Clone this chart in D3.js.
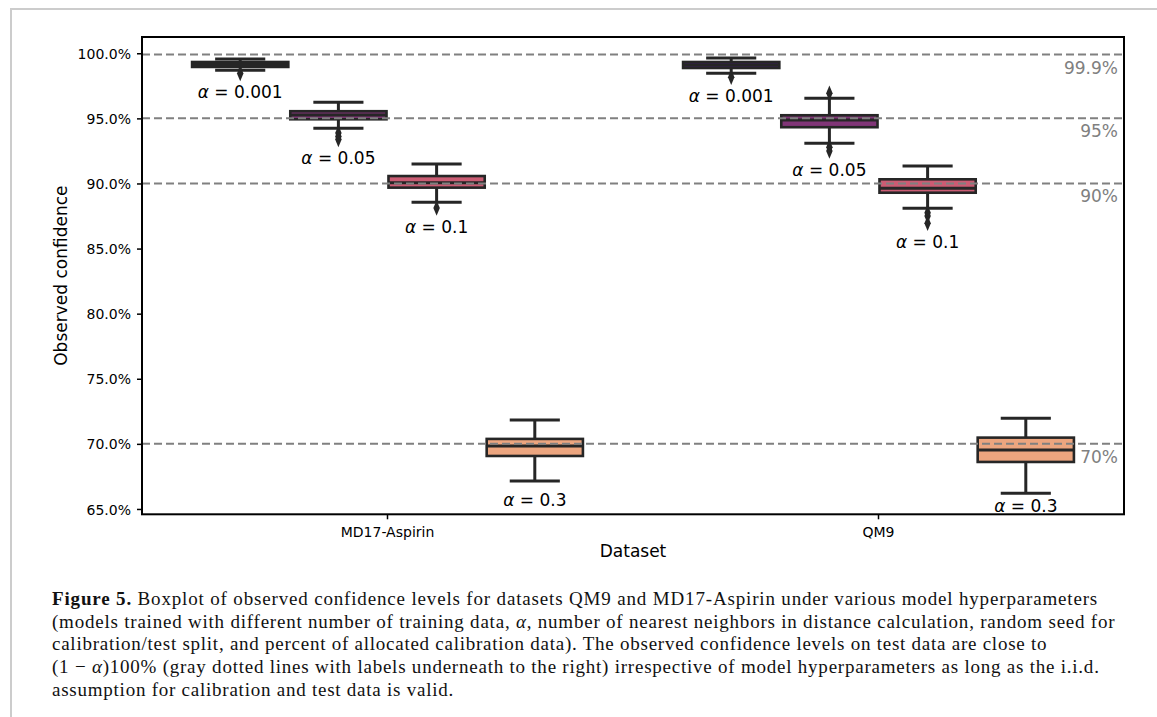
<!DOCTYPE html>
<html>
<head>
<meta charset="utf-8">
<script src="https://cdn.jsdelivr.net/npm/d3@7"></script>
<style>
  body { margin: 0; background: #fff; }
  svg { display: block; }
  .tick text { font-family: 'DejaVu Sans', sans-serif; font-size: 14px; fill: #000; }
</style>
</head>
<body>
<script>
const datasets = ['MD17-Aspirin', 'QM9'];
const alphas = ['0.001', '0.05', '0.1', '0.3'];
const palette = ['#3c1b64', '#803577', '#cb5c73', '#eca57f'];

// box stats per alpha (percent)
const md17Lower  = [98.69, 94.24, 88.56, 67.15];
const md17Q1     = [98.95, 94.93, 89.68, 69.07];
const md17Median = [99.14, 95.26, 90.06, 69.84];
const md17Q3     = [99.33, 95.55, 90.57, 70.38];
const md17Upper  = [99.56, 96.24, 91.49, 71.84];
const md17Fliers = [[98.45], [93.88, 93.6, 93.38], [88.12], []];

const qm9Lower  = [98.46, 93.09, 88.1, 66.2];
const qm9Q1     = [98.87, 94.32, 89.29, 68.61];
const qm9Median = [99.1, 94.88, 89.63, 69.53];
const qm9Q3     = [99.33, 95.24, 90.32, 70.48];
const qm9Upper  = [99.64, 96.54, 91.34, 71.97];
const qm9Fliers = [[98.16], [96.93, 92.78, 92.5], [87.75, 87.5, 86.95], []];

const refLevels = [99.9, 95, 90, 70];
const refLabels = ['99.9%', '95%', '90%', '70%'];
const yTicks = [65, 70, 75, 80, 85, 90, 95, 100];

const captionLines = [
  [['Figure 5.', 'b'], [' Boxplot of observed confidence levels for datasets QM9 and MD17-Aspirin under various model hyperparameters', '']],
  [['(models trained with different number of training data, ', ''], ['α', 'i'], [', number of nearest neighbors in distance calculation, random seed for', '']],
  [['calibration/test split, and percent of allocated calibration data). The observed confidence levels on test data are close to', '']],
  [['(1 − ', ''], ['α', 'i'], [')100% (gray dotted lines with labels underneath to the right) irrespective of model hyperparameters as long as the i.i.d.', '']],
  [['assumption for calibration and test data is valid.', '']]
];

const stats = [
  {lower: md17Lower, q1: md17Q1, median: md17Median, q3: md17Q3, upper: md17Upper, fliers: md17Fliers},
  {lower: qm9Lower, q1: qm9Q1, median: qm9Median, q3: qm9Q3, upper: qm9Upper, fliers: qm9Fliers}
];
const boxes = [];
datasets.forEach((ds, i) => {
  alphas.forEach((a, j) => {
    const s = stats[i];
    boxes.push({ds, a, j, lower: s.lower[j], q1: s.q1[j], median: s.median[j],
      q3: s.q3[j], upper: s.upper[j], fliers: s.fliers[j]});
  });
});

const width = 1157;
const height = 717;
const plotLeft = 142, plotRight = 1124, plotTop = 37, plotBottom = 514.3;
const edge = '#262626';

const svg = d3.select('body').append('svg')
  .attr('width', width)
  .attr('height', height);

// page frame
svg.append('path')
  .attr('d', `M11,${height} L11,9 L${width},9`)
  .attr('fill', 'none')
  .attr('stroke', '#cccccc')
  .attr('stroke-width', 2);

const x = d3.scaleBand().domain(datasets).range([plotLeft, plotRight]);
const hue = d3.scaleBand().domain(alphas)
  .range([-0.4 * x.bandwidth(), 0.4 * x.bandwidth()]);
const y = d3.scaleLinear().domain([64.59, 101.25]).range([plotBottom, plotTop]);

const boxW = hue.bandwidth() * 0.98;
const capW = boxW / 2 + 2;
const cx = d => x(d.ds) + x.bandwidth() / 2 + hue(d.a) + hue.bandwidth() / 2;

// axes
svg.append('g')
  .attr('transform', `translate(${plotLeft},0)`)
  .call(d3.axisLeft(y).tickValues(yTicks).tickSize(5).tickPadding(6)
    .tickFormat(d => d3.format('.1f')(d) + '%'))
  .call(g => g.select('.domain').remove())
  .call(g => g.selectAll('.tick line').attr('stroke', '#000').attr('stroke-width', 1.5))
  .call(g => g.selectAll('.tick text').attr('dy', '0.36em'));

svg.append('g')
  .attr('transform', `translate(0,${plotBottom})`)
  .call(d3.axisBottom(x).tickSize(5).tickPadding(8))
  .call(g => g.select('.domain').remove())
  .call(g => g.selectAll('.tick line').attr('stroke', '#000').attr('stroke-width', 1.5));

// boxes
const g = svg.append('g').attr('class', 'boxes');
const bx = g.selectAll('g.box').data(boxes).enter().append('g').attr('class', 'box');

bx.append('line')
  .attr('x1', cx).attr('x2', cx)
  .attr('y1', d => y(d.q3)).attr('y2', d => y(d.upper))
  .attr('stroke', edge).attr('stroke-width', 3);
bx.append('line')
  .attr('x1', cx).attr('x2', cx)
  .attr('y1', d => y(d.q1)).attr('y2', d => y(d.lower))
  .attr('stroke', edge).attr('stroke-width', 3);
bx.append('line')
  .attr('x1', d => cx(d) - capW / 2).attr('x2', d => cx(d) + capW / 2)
  .attr('y1', d => y(d.upper)).attr('y2', d => y(d.upper))
  .attr('stroke', edge).attr('stroke-width', 3);
bx.append('line')
  .attr('x1', d => cx(d) - capW / 2).attr('x2', d => cx(d) + capW / 2)
  .attr('y1', d => y(d.lower)).attr('y2', d => y(d.lower))
  .attr('stroke', edge).attr('stroke-width', 3);
bx.append('rect')
  .attr('x', d => cx(d) - boxW / 2)
  .attr('width', boxW)
  .attr('y', d => y(d.q3))
  .attr('height', d => y(d.q1) - y(d.q3))
  .attr('fill', d => palette[d.j])
  .attr('stroke', edge).attr('stroke-width', 2.6);
bx.append('line')
  .attr('x1', d => cx(d) - boxW / 2).attr('x2', d => cx(d) + boxW / 2)
  .attr('y1', d => y(d.median)).attr('y2', d => y(d.median))
  .attr('stroke', edge).attr('stroke-width', 3);

const diamond = d3.symbol().type(d3.symbolDiamond).size(70);
bx.selectAll('path.flier')
  .data(d => d.fliers.map(v => ({v, cx: cx(d)})))
  .enter().append('path')
  .attr('class', 'flier')
  .attr('d', diamond)
  .attr('transform', d => `translate(${d.cx},${y(d.v)}) scale(0.72,1)`)
  .attr('fill', edge);

// alpha labels under each box
bx.append('text')
  .attr('x', cx)
  .attr('y', d => Math.min(y(d3.min([d.lower, ...d.fliers])) + 25, 512))
  .attr('text-anchor', 'middle')
  .style('font-family', "'DejaVu Sans', sans-serif")
  .style('font-size', '17px')
  .style('fill', '#000')
  .call(t => t.append('tspan').style('font-style', 'italic').text('α'))
  .call(t => t.append('tspan').text(d => ' = ' + d.a));

// reference lines
svg.append('g').selectAll('line').data(refLevels).enter().append('line')
  .attr('x1', plotLeft).attr('x2', plotRight)
  .attr('y1', d => y(d)).attr('y2', d => y(d))
  .attr('stroke', '#808080').attr('stroke-width', 2)
  .attr('stroke-dasharray', '8,4');

svg.append('g').selectAll('text').data(refLevels).enter().append('text')
  .attr('x', plotRight - 6)
  .attr('y', d => y(d) + 19)
  .attr('text-anchor', 'end')
  .style('font-family', "'DejaVu Sans', sans-serif")
  .style('font-size', '17px')
  .style('fill', '#808080')
  .text((d, i) => refLabels[i]);

// plot frame
svg.append('rect')
  .attr('x', plotLeft).attr('y', plotTop)
  .attr('width', plotRight - plotLeft).attr('height', plotBottom - plotTop)
  .attr('fill', 'none').attr('stroke', '#000').attr('stroke-width', 2);

// axis titles
svg.append('text')
  .attr('transform', `translate(67,${(plotTop + plotBottom) / 2}) rotate(-90)`)
  .attr('text-anchor', 'middle')
  .style('font-family', "'DejaVu Sans', sans-serif")
  .style('font-size', '17px')
  .text('Observed confidence');

svg.append('text')
  .attr('x', (plotLeft + plotRight) / 2)
  .attr('y', 557)
  .attr('text-anchor', 'middle')
  .style('font-family', "'DejaVu Sans', sans-serif")
  .style('font-size', '17px')
  .text('Dataset');

// caption: one common stretch for every line, fitted to the long lines
const captionTexts = captionLines.map((line, i) => {
  const t = svg.append('text')
    .attr('x', 52)
    .attr('y', 605 + i * 22.7)
    .style('font-family', "'Liberation Serif', serif")
    .style('font-size', '19px')
    .style('fill', '#111');
  line.forEach(([s, f]) => {
    t.append('tspan')
      .style('font-weight', f === 'b' ? 'bold' : null)
      .style('font-style', f === 'i' ? 'italic' : null)
      .text(s);
  });
  return t;
});
const fitTargets = [[0, 1040], [1, 1081], [3, 1034]];
const stretch = d3.mean(fitTargets, ([i, w]) => w / captionTexts[i].node().getComputedTextLength());
captionTexts.forEach(t => {
  t.attr('textLength', t.node().getComputedTextLength() * stretch)
    .attr('lengthAdjust', 'spacing');
});
</script>
</body>
</html>
